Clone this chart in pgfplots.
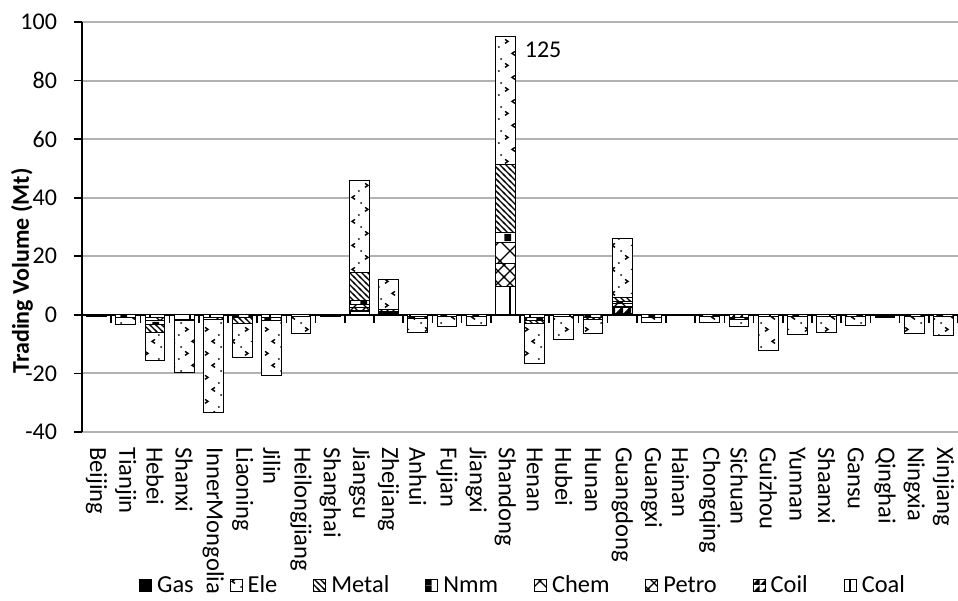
\documentclass[border=0pt]{standalone}
\usepackage{fontspec}
\setmainfont{Carlito}
\usepackage{pgfplots}
\pgfplotsset{compat=1.18}
\usepackage{pgfplotstable}
\usetikzlibrary{patterns}

% ---------- patterns ----------
\pgfdeclarepatternformonly{elep}{\pgfqpoint{-1bp}{-1bp}}{\pgfqpoint{11bp}{13bp}}{\pgfqpoint{10bp}{12bp}}{%
  \pgfsetlinewidth{0.7bp}%
  \pgfpathmoveto{\pgfqpoint{7.5bp}{10.8bp}}\pgfpathlineto{\pgfqpoint{6bp}{9.8bp}}\pgfpathlineto{\pgfqpoint{7.5bp}{8.8bp}}%
  \pgfpathmoveto{\pgfqpoint{2.5bp}{4.8bp}}\pgfpathlineto{\pgfqpoint{4bp}{3.8bp}}\pgfpathlineto{\pgfqpoint{2.5bp}{2.8bp}}%
  \pgfusepath{stroke}%
  \pgfpathcircle{\pgfqpoint{0.6bp}{7bp}}{0.5bp}\pgfpathcircle{\pgfqpoint{9.4bp}{1bp}}{0.5bp}%
  \pgfusepath{fill}}
\pgfdeclarepatternformonly{metalp}{\pgfqpoint{-1bp}{-1bp}}{\pgfqpoint{4bp}{4bp}}{\pgfqpoint{3bp}{3bp}}{%
  \pgfsetlinewidth{0.6bp}%
  \pgfpathmoveto{\pgfqpoint{-0.5bp}{3.5bp}}\pgfpathlineto{\pgfqpoint{3.5bp}{-0.5bp}}\pgfusepath{stroke}}
\pgfdeclarepatternformonly{chemp}{\pgfqpoint{-1bp}{-1bp}}{\pgfqpoint{11bp}{11bp}}{\pgfqpoint{10bp}{10bp}}{%
  \pgfsetlinewidth{0.6bp}%
  \pgfpathmoveto{\pgfqpoint{-0.5bp}{-0.5bp}}\pgfpathlineto{\pgfqpoint{10.5bp}{10.5bp}}%
  \pgfpathmoveto{\pgfqpoint{-0.5bp}{10.5bp}}\pgfpathlineto{\pgfqpoint{10.5bp}{-0.5bp}}\pgfusepath{stroke}}
\pgfdeclarepatternformonly{petrop}{\pgfqpoint{-1bp}{-1bp}}{\pgfqpoint{7bp}{7bp}}{\pgfqpoint{6bp}{6bp}}{%
  \pgfsetlinewidth{0.6bp}%
  \pgfpathmoveto{\pgfqpoint{-0.5bp}{-0.5bp}}\pgfpathlineto{\pgfqpoint{6.5bp}{6.5bp}}%
  \pgfpathmoveto{\pgfqpoint{-0.5bp}{6.5bp}}\pgfpathlineto{\pgfqpoint{6.5bp}{-0.5bp}}\pgfusepath{stroke}}
\pgfdeclarepatternformonly{coalp}{\pgfqpoint{0bp}{-1bp}}{\pgfqpoint{10bp}{11bp}}{\pgfqpoint{10bp}{10bp}}{%
  \pgfsetlinewidth{0.7bp}%
  \pgfpathmoveto{\pgfqpoint{5bp}{-0.5bp}}\pgfpathlineto{\pgfqpoint{5bp}{10.5bp}}\pgfusepath{stroke}}
\pgfdeclarepatternformonly{coilp}{\pgfqpoint{0bp}{0bp}}{\pgfqpoint{4bp}{4bp}}{\pgfqpoint{4bp}{4bp}}{%
  \pgfpathmoveto{\pgfqpoint{0bp}{0bp}}\pgfpathlineto{\pgfqpoint{4bp}{0bp}}\pgfpathlineto{\pgfqpoint{4bp}{4bp}}\pgfpathclose\pgfusepath{fill}}
\pgfdeclarepatternformonly{nmmp}{\pgfqpoint{0bp}{0bp}}{\pgfqpoint{8bp}{4bp}}{\pgfqpoint{8bp}{4bp}}{%
  \pgfpathrectangle{\pgfqpoint{4.5bp}{0bp}}{\pgfqpoint{3.5bp}{4bp}}\pgfusepath{fill}}

\pgfplotsset{
  pb/.style={draw=black, line width=0.5bp, fill=white, postaction={pattern=#1}, forget plot},
  gasb/.style={draw=black, line width=0.5bp, fill=black, forget plot},
}

% ---------- data (each province is either a buyer (+) or a seller (-)) ----------
\pgfplotstableread{
x  Coal Coil Petro Chem Nmm  Metal Ele   Gas
0  0    0    0     0    0    0     0     -0.7
1  0    0    0     0    -0.8 0     -2.6  0
2  -1   0    0     -0.9 -1.5 -2.7  -9.6  0
3  -1.5 -0.5 0     0    0    0     -17.7 0
4  -1   0    0     -0.5 0    0     -32   0
5  0    0    0     0    -1   -2    -11.7 0
6  -1   0    0     0    -1   0     -18.8 0
7  -0.5 0    0     0    0    0     -6    0
8  0    0    0     0    0    0     0     -0.6
9  1    0.5  1     1    1.5  9.3   31.7  0
10 0.3  0    0.3   0.3  0.3  0.8   10    0
11 -0.5 0    0     0    -0.8 0     -4.7  0
12 0    0    0     0    -0.5 0     -3.5  0
13 0    0    0     0    -0.5 0     -3.3  0
14 9.6  0    8.1   6.9  3.4  23.2  43.8  0
15 -1   0    0     0    -1   -1    -13.7 0
16 -0.5 0    0     0    0    0     -8    0
17 0    0    0     0    -1   -0.5  -4.8  0
18 0.5  2    0.5   1    0.5  1.5   20    0
19 0    0    0     0    -0.8 0     -1.7  0
21 0    0    0     0    -0.7 0     -2    0
22 0    -1   0     0    -0.5 0     -2.5  0
23 -0.5 0    0     0    0    0     -11.5 0
24 0    0    0     0    -0.6 0     -6    0
25 -0.5 0    0     0    0    0     -5.6  0
26 0    0    0     0    -0.5 0     -3.2  0
27 0    0    0     0    0    0     0     -0.9
28 0    0    0     0    -0.5 0     -6    0
29 0    0    0     0    -0.5 0     -6.5  0
}\datatab

\begin{document}
\begin{tikzpicture}[font=\fontsize{12bp}{14bp}\selectfont]
\begin{axis}[
  scale only axis, width=438bp, height=205bp,
  ybar stacked, bar width=0.68,
  xmin=-0.5, xmax=29.5, ymin=-40, ymax=100,
  ytick={-40,-20,...,100},
  xtick={0,...,29},
  xticklabels={Beijing,Tianjin,Hebei,Shanxi,InnerMongolia,Liaoning,Jilin,Heilongjiang,Shanghai,Jiangsu,Zhejiang,Anhui,Fujian,Jiangxi,Shandong,Henan,Hubei,Hunan,Guangdong,Guangxi,Hainan,Chongqing,Sichuan,Guizhou,Yunnan,Shaanxi,Gansu,Qinghai,Ningxia,Xinjiang},
  xticklabel style={rotate=-90, anchor=west, font=\fontsize{12.3bp}{14bp}\selectfont},
  xtick style={draw=none},
  axis x line*=bottom, axis y line*=left,
  x axis line style={-, draw=gray!60, line width=1bp},
  y axis line style={-, black, line width=0.8bp},
  tick align=outside, major tick length=4bp,
  ytick style={black, line width=0.8bp},
  yticklabel style={xshift=-5bp},
  /pgf/number format/assume math mode=true,
  ymajorgrids, grid style={gray!60, line width=1bp},
  extra y ticks={0}, extra y tick labels={},
  extra y tick style={grid style={black, line width=1.2bp}, major tick length=0pt},
  ylabel={\bfseries Trading Volume (Mt)},
  every axis y label/.style={at={(axis description cs:-0.0685,0.393)}, rotate=90, anchor=center},
  legend columns=8,
  legend image code/.code={\draw[#1] (0bp,-3bp) rectangle (6bp,3bp);},
  legend style={draw=none, fill=none, at={(axis description cs:0.5046,-0.375)}, anchor=center,
    font=\fontsize{12.2bp}{14bp}\selectfont,
    /tikz/every odd column/.append style={column sep=0.5bp},
    /tikz/every even column/.append style={column sep=16bp}},
]
\addplot[pb=coalp]  table[x=x,y=Coal]  {\datatab};
\addplot[pb=coilp]  table[x=x,y=Coil]  {\datatab};
\addplot[pb=petrop] table[x=x,y=Petro] {\datatab};
\addplot[pb=chemp]  table[x=x,y=Chem]  {\datatab};
\addplot[pb=nmmp]   table[x=x,y=Nmm]   {\datatab};
\addplot[pb=metalp] table[x=x,y=Metal] {\datatab};
\addplot[pb=elep]   table[x=x,y=Ele]   {\datatab};
\addplot[gasb]      table[x=x,y=Gas]   {\datatab};
% category tick marks on the zero line
\pgfplotsinvokeforeach{0,...,30}{
  \draw[black, line width=0.8bp] (axis cs:#1-0.5,0) -- ([yshift=-4bp]axis cs:#1-0.5,0);
}
\node[fill=white, inner xsep=0pt, inner ysep=0pt, minimum height=12.5bp, anchor=west]
  at (axis cs:14.31,90.4) {\hspace*{5bp}125\hspace*{1bp}};
% legend
\addlegendimage{draw=black, line width=0.5bp, fill=black}
\addlegendentry{Gas}
\addlegendimage{draw=black, line width=0.5bp, fill=white, postaction={pattern=elep}}
\addlegendentry{Ele}
\addlegendimage{draw=black, line width=0.5bp, fill=white, postaction={pattern=metalp}}
\addlegendentry{Metal}
\addlegendimage{draw=black, line width=0.5bp, fill=white, postaction={pattern=nmmp}}
\addlegendentry{Nmm}
\addlegendimage{draw=black, line width=0.5bp, fill=white, postaction={pattern=chemp}}
\addlegendentry{Chem}
\addlegendimage{draw=black, line width=0.5bp, fill=white, postaction={pattern=petrop}}
\addlegendentry{Petro}
\addlegendimage{draw=black, line width=0.5bp, fill=white, postaction={pattern=coilp}}
\addlegendentry{Coil}
\addlegendimage{draw=black, line width=0.5bp, fill=white, postaction={pattern=coalp}}
\addlegendentry{Coal}
\end{axis}
\pgfresetboundingbox
\path[use as bounding box] (-41bp,-84.5bp) rectangle (438bp,216bp);
\end{tikzpicture}
\end{document}
